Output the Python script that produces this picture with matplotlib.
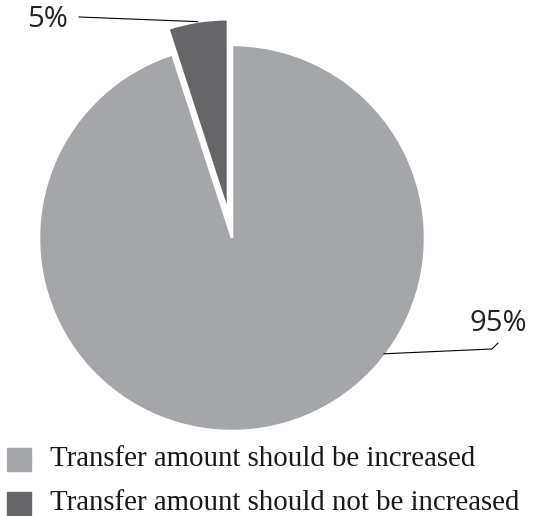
import numpy as np
import matplotlib
matplotlib.use("Agg")
from matplotlib import pyplot as plt
from matplotlib.patches import Rectangle

labels = ["Transfer amount should be increased",
          "Transfer amount should not be increased"]
shares = [95, 5]
colors = ["#a5a6aa", "#666668"]
explode = [0, 0.135]

W, H, DPI = 536, 516, 100
R = 193.0            # pie radius in pixels
CX, CY = 232, 238    # pie centre in pixels (from top-left)

fig = plt.figure(figsize=(W / DPI, H / DPI), dpi=DPI)
ax = fig.add_axes([0, 0, 1, 1])

wedges, _ = ax.pie(shares, colors=colors, explode=explode, startangle=90,
                   counterclock=False, radius=1,
                   wedgeprops=dict(edgecolor="white", linewidth=1.8))

# axes in pixel-scaled units so the pie sits where we want it
ax.set_xlim(-CX / R, (W - CX) / R)
ax.set_ylim((CY - H) / R, CY / R)
ax.set_aspect("equal")
ax.axis("off")

# leader lines and percentage labels
big, small = wedges
# 5% label: from the middle of the exploded slice's arc out to the left
th = np.deg2rad((small.theta1 + small.theta2) / 2)
cx, cy = small.center
p0 = (cx + np.cos(th) * small.r, cy + np.sin(th) * small.r)
p1 = ((79 - CX) / R, (CY - 17) / R)
ax.plot([p0[0], p1[0]], [p0[1], p1[1]], color="black", lw=0.8)
ax.text((47 - CX) / R, (CY - 20) / R, "%d%%" % shares[1], ha="center",
        va="center", fontsize=21, family="Open Sans", color="#222222")

# 95% label: from the lower right arc with a small elbow
th = np.deg2rad(-37.3)
q0 = (np.cos(th) * 0.99, np.sin(th) * 0.99)
q1 = ((492 - CX) / R, (CY - 349) / R)
q2 = ((498 - CX) / R, (CY - 343) / R)
ax.plot([q0[0], q1[0], q2[0]], [q0[1], q1[1], q2[1]], color="black", lw=0.8)
ax.text((498 - CX) / R, (CY - 324) / R, "%d%%" % shares[0], ha="center",
        va="center", fontsize=21, family="Open Sans", color="#222222")

# legend drawn as squares and serif text
for i, (lab, col) in enumerate(zip(labels, colors)):
    top = 448 + i * 44
    fig.patches.append(Rectangle((7 / W, 1 - (top + 23) / H), 24 / W, 23 / H,
                                 transform=fig.transFigure, color=col))
    fig.text(50 / W, 1 - (top + 18) / H, lab, ha="left", va="baseline",
             fontsize=20.8, family="Liberation Serif", color="#1a1a1a")

fig.savefig("out.png", dpi=DPI)
